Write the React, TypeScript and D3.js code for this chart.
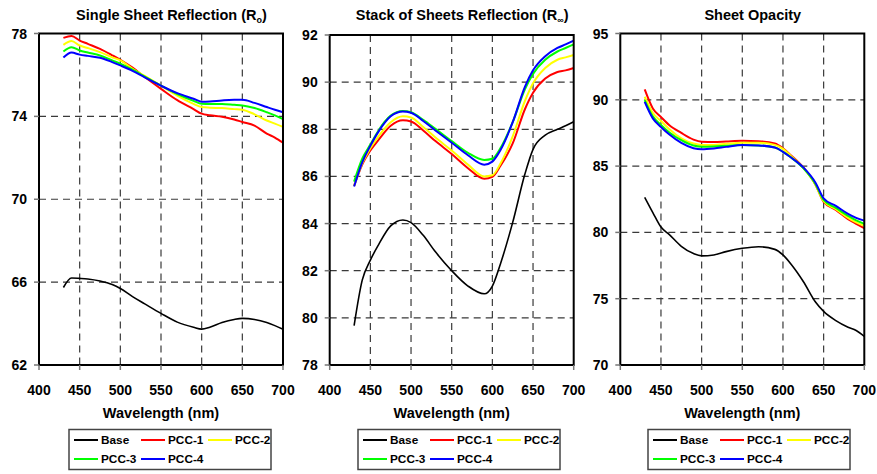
import React from "react";
import * as d3 from "d3";

const wavelengths = [430, 440, 450, 460, 475, 490, 500, 515, 530, 550, 570, 590, 600, 610, 625, 640, 650, 665, 680, 690, 700];
const seriesNames = ["Base", "PCC-1", "PCC-2", "PCC-3", "PCC-4"];
const seriesColors = ["#000000", "#FF0000", "#FFFF00", "#00FF00", "#0000FF"];
const xTicks = [400, 450, 500, 550, 600, 650, 700];

// Panel 1: Single Sheet Reflection (Ro)
const roBase = [65.74, 66.2, 66.18, 66.15, 66.05, 65.88, 65.69, 65.3, 64.95, 64.49, 64.07, 63.82, 63.73, 63.82, 64.05, 64.2, 64.25, 64.2, 64.05, 63.9, 63.73];
const roPcc1 = [77.79, 77.88, 77.66, 77.5, 77.26, 76.95, 76.73, 76.35, 75.9, 75.33, 74.78, 74.35, 74.13, 74.05, 73.98, 73.85, 73.73, 73.55, 73.17, 72.98, 72.73];
const roPcc2 = [77.45, 77.64, 77.42, 77.3, 77.1, 76.85, 76.7, 76.3, 75.95, 75.48, 75.0, 74.6, 74.45, 74.42, 74.4, 74.35, 74.32, 74.1, 73.8, 73.65, 73.49];
const roPcc3 = [77.13, 77.34, 77.18, 77.08, 76.94, 76.7, 76.54, 76.25, 75.92, 75.48, 75.08, 74.75, 74.61, 74.6, 74.6, 74.56, 74.53, 74.4, 74.2, 74.05, 73.87];
const roPcc4 = [76.84, 77.08, 76.98, 76.92, 76.83, 76.62, 76.46, 76.2, 75.88, 75.48, 75.12, 74.85, 74.71, 74.72, 74.77, 74.8, 74.8, 74.65, 74.45, 74.32, 74.2];
const roTicks = [62, 66, 70, 74, 78];

// Panel 2: Stack of Sheets Reflection (R∞)
const rinfBase = [79.67, 81.6, 82.45, 83.1, 83.9, 84.15, 84.04, 83.5, 82.8, 82.0, 81.35, 81.02, 81.35, 82.3, 84.05, 86.1, 87.15, 87.75, 88.0, 88.15, 88.32];
const rinfPcc1 = [85.6, 86.5, 87.1, 87.55, 88.15, 88.38, 88.33, 87.95, 87.5, 86.95, 86.35, 85.9, 85.98, 86.45, 87.4, 88.85, 89.55, 90.15, 90.43, 90.5, 90.6];
const rinfPcc2 = [85.6, 86.55, 87.2, 87.7, 88.3, 88.55, 88.5, 88.1, 87.65, 87.1, 86.5, 86.0, 86.05, 86.55, 87.7, 89.2, 89.95, 90.6, 90.95, 91.05, 91.15];
const rinfPcc3 = [85.78, 86.75, 87.35, 87.95, 88.58, 88.78, 88.72, 88.4, 88.02, 87.5, 87.0, 86.7, 86.75, 87.2, 88.3, 89.7, 90.35, 90.95, 91.3, 91.45, 91.6];
const rinfPcc4 = [85.57, 86.6, 87.3, 87.9, 88.55, 88.75, 88.7, 88.35, 87.95, 87.43, 86.9, 86.5, 86.63, 87.12, 88.3, 89.8, 90.5, 91.1, 91.45, 91.6, 91.76];
const rinfTicks = [78, 80, 82, 84, 86, 88, 90, 92];

// Panel 3: Sheet Opacity
const opBase = [82.65, 81.5, 80.4, 79.85, 78.95, 78.4, 78.23, 78.3, 78.55, 78.8, 78.92, 78.72, 78.3, 77.6, 76.3, 74.75, 74.04, 73.35, 72.85, 72.6, 72.16];
const opPcc1 = [90.78, 89.35, 88.7, 88.1, 87.5, 87.0, 86.84, 86.82, 86.86, 86.91, 86.88, 86.7, 86.34, 85.8, 84.9, 83.6, 82.3, 81.7, 81.0, 80.65, 80.32];
const opPcc2 = [90.23, 89.0, 88.4, 87.8, 87.1, 86.7, 86.59, 86.6, 86.68, 86.76, 86.76, 86.6, 86.3, 85.75, 84.85, 83.6, 82.35, 81.75, 81.1, 80.75, 80.49];
const opPcc3 = [89.98, 88.75, 88.1, 87.55, 86.95, 86.55, 86.46, 86.48, 86.53, 86.59, 86.56, 86.4, 86.08, 85.65, 84.85, 83.65, 82.45, 81.85, 81.25, 80.9, 80.64];
const opPcc4 = [89.85, 88.6, 87.95, 87.4, 86.75, 86.35, 86.27, 86.33, 86.45, 86.59, 86.56, 86.4, 86.08, 85.65, 84.9, 83.75, 82.57, 82.0, 81.4, 81.1, 80.89];
const opTicks = [70, 75, 80, 85, 90, 95];

const FONT = "Arial, 'Liberation Sans', Helvetica, sans-serif";

type PanelDef = {
  left: number;
  top: number;
  title: string;
  sub: string | null;
  ticks: number[];
  series: number[][];
  legendX: number;
};

const panels: PanelDef[] = [
  { left: 39, top: 33.5, title: "Single Sheet Reflection (R", sub: "o", ticks: roTicks, series: [roBase, roPcc1, roPcc2, roPcc3, roPcc4], legendX: 69 },
  { left: 329.7, top: 35, title: "Stack of Sheets Reflection (R", sub: "∞", ticks: rinfTicks, series: [rinfBase, rinfPcc1, rinfPcc2, rinfPcc3, rinfPcc4], legendX: 358 },
  { left: 620.3, top: 33.5, title: "Sheet Opacity", sub: null, ticks: opTicks, series: [opBase, opPcc1, opPcc2, opPcc3, opPcc4], legendX: 648 },
];

const PLOT_W = 244;
const BOTTOM = 365;

function Panel({ p }: { p: PanelDef }) {
  const x = d3.scaleLinear().domain([400, 700]).range([p.left, p.left + PLOT_W]);
  const y = d3
    .scaleLinear()
    .domain([p.ticks[0], p.ticks[p.ticks.length - 1]])
    .range([BOTTOM, p.top]);
  const line = d3
    .line<number>()
    .x((_, i) => x(wavelengths[i]))
    .y((v) => y(v))
    .curve(d3.curveMonotoneX);
  const cx = p.left + PLOT_W / 2;
  const legendItems = seriesNames.map((n, i) => ({
    name: n,
    color: seriesColors[i],
    col: i < 3 ? i : i - 3,
    row: i < 3 ? 0 : 1,
  }));
  return (
    <g>
      {/* title */}
      <text x={cx + 10.5} y={19.5} textAnchor="middle" fontFamily={FONT} fontWeight="bold" fontSize={14.5} fill="#000">
        {p.title}
        {p.sub && (
          <>
            <tspan fontSize={9} dy={3}>{p.sub}</tspan>
            <tspan dy={-3}>)</tspan>
          </>
        )}
      </text>
      {/* gridlines */}
      {xTicks.slice(1, -1).map((t) => (
        <line key={"gx" + t} x1={x(t)} x2={x(t)} y1={p.top} y2={BOTTOM} stroke="#3a3a3a" strokeWidth={1.2} strokeDasharray="7,5" />
      ))}
      {p.ticks.slice(1, -1).map((t) => (
        <line key={"gy" + t} x1={p.left} x2={p.left + PLOT_W} y1={y(t)} y2={y(t)} stroke="#3a3a3a" strokeWidth={1.2} strokeDasharray="7,5" />
      ))}
      {/* series */}
      {p.series.map((s, i) => (
        <path key={"s" + i} d={line(s) || ""} fill="none" stroke={seriesColors[i]} strokeWidth={i === 0 ? 1.6 : 2} strokeLinejoin="round" />
      ))}
      {/* frame */}
      <rect x={p.left} y={p.top} width={PLOT_W} height={BOTTOM - p.top} fill="none" stroke="#000" strokeWidth={2} />
      {/* y ticks */}
      {p.ticks.map((t) => (
        <g key={"yt" + t}>
          <line x1={p.left - 5} x2={p.left} y1={y(t)} y2={y(t)} stroke="#777" strokeWidth={1.5} />
          <text x={p.left - 12} y={y(t) + 5} textAnchor="end" fontFamily={FONT} fontWeight="bold" fontSize={14} fill="#000">
            {t}
          </text>
        </g>
      ))}
      {/* x ticks */}
      {xTicks.map((t) => (
        <g key={"xt" + t}>
          <line x1={x(t)} x2={x(t)} y1={BOTTOM} y2={BOTTOM + 5} stroke="#777" strokeWidth={1.5} />
          <text x={x(t)} y={395} textAnchor="middle" fontFamily={FONT} fontWeight="bold" fontSize={14} fill="#000">
            {t}
          </text>
        </g>
      ))}
      <text x={cx} y={418} textAnchor="middle" fontFamily={FONT} fontWeight="bold" fontSize={14.5} fill="#000">
        Wavelength (nm)
      </text>
      {/* legend */}
      <rect x={p.legendX} y={429.5} width={202} height={40} fill="#fff" stroke="#444" strokeWidth={1.5} />
      {legendItems.map((it) => {
        const lx = p.legendX + 5 + it.col * 67;
        const ly = 440 + it.row * 19;
        return (
          <g key={"lg" + it.name}>
            <line x1={lx} x2={lx + 24} y1={ly} y2={ly} stroke={it.color} strokeWidth={2} />
            <text x={lx + 27} y={ly + 4.3} fontFamily={FONT} fontWeight="bold" fontSize={11.8} fill="#000">
              {it.name}
            </text>
          </g>
        );
      })}
    </g>
  );
}

export default function App() {
  return (
    <svg width={877} height={474} style={{ position: "absolute", left: 0, top: 0, background: "#fff" }}>
      <rect x={0} y={0} width={877} height={474} fill="#fff" />
      {panels.map((p, i) => (
        <Panel key={i} p={p} />
      ))}
    </svg>
  );
}
